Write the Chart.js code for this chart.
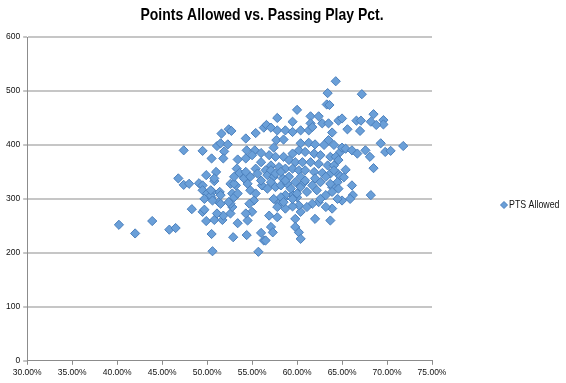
<!DOCTYPE html>
<html><head><meta charset="utf-8">
<script src="https://cdn.jsdelivr.net/npm/chart.js@4/dist/chart.umd.min.js"></script>
<style>html,body{margin:0;padding:0;background:#fff;}#wrap{width:566px;height:383px;}</style>
</head><body><div id="wrap"><canvas id="c" width="566" height="383"></canvas></div>
<script>
const chartTitle = 'Points Allowed vs. Passing Play Pct.';
const seriesName = 'PTS Allowed';
const xTicks = [30, 35, 40, 45, 50, 55, 60, 65, 70, 75];
const yTicks = [0, 100, 200, 300, 400, 500, 600];

// Passing play percentage (x) and points allowed (y)
const passPct = [
 40.2,42.0,43.9,45.8,46.5,46.8,47.4,48.0,48.3,49.1,49.9,51.0,50.8,50.5,50.6,52.9,54.4,55.7,56.0,56.3,
 53.4,54.5,55.0,54.3,49.9,50.8,51.7,51.8,51.1,52.6,52.8,49.5,49.7,49.5,49.5,50.0,50.6,51.4,49.7,50.5,
 51.3,52.8,52.6,50.4,51.5,50.6,51.5,52.4,53.0,53.4,53.2,52.6,50.4,54.1,
 47.4,49.5,50.5,51.1,51.5,51.6,52.3,52.4,52.7,51.9,51.8,54.3,55.4,56.3,56.6,54.4,55.3,55.0,56.0,53.4,
 54.3,56.0,53.3,53.6,55.4,55.6,56.5,50.8,53.0,
 64.3,63.4,63.3,63.6,60.0,57.8,59.5,61.5,62.4,62.8,63.5,61.5,57.1,57.8,58.7,59.5,60.4,61.3,57.7,58.5,
 57.4,64.6,61.7,63.9,65.6,63.5,60.4,61.3,62.0,63.0,64.1,64.8,59.5,60.2,60.9,61.9,62.6,63.7,56.9,57.6,
 58.5,59.1,59.8,60.6,61.5,62.4,63.4,64.1,57.1,58.0,58.7,59.5,60.2,60.9,61.9,62.8,63.7,64.5,56.7,57.4,
 58.4,59.1,67.2,68.5,65.0,66.6,67.1,68.2,69.6,69.6,67.0,68.8,69.3,69.8,70.4,71.8,65.0,65.4,66.1,66.7,
 67.6,68.1,68.5,64.3,64.6,65.4,64.1,64.8,65.2,64.5,66.1,63.9,
 64.6,66.2,65.9,65.0,68.2,63.9,63.7,62.0,63.2,62.4,61.7,60.4,60.2,59.5,58.7,58.0,58.5,59.5,60.0,57.8,
 56.9,59.8,59.8,60.2,60.4,57.1,57.3,56.5,61.1,
 54.5,54.8,55.4,55.2,54.7,56.1,56.7,57.1,57.6,58.2,58.9,59.3,58.7,58.2,57.4,57.8,58.5,59.5,60.0,60.4,
 60.8,61.1,61.7,62.2,62.6,63.2,63.9,64.5,53.0,54.3,54.8,56.0,57.1,57.6,58.2,58.7,59.8,60.4,60.9,62.0,
 62.6,63.2,63.7
];
const ptsAllowed = [
 252,236,259,243,246,338,326,328,281,329,344,350,333,235,203,229,233,202,237,223,
 255,260,276,273,259,261,261,269,273,273,285,276,280,325,316,310,313,313,300,302,
 294,310,291,306,307,297,291,294,303,310,325,328,316,338,
 390,389,375,398,403,421,401,429,426,388,375,412,422,432,437,390,390,381,385,373,
 375,368,356,348,356,347,353,338,328,
 518,496,475,474,465,450,443,453,453,440,440,440,432,427,427,424,427,427,409,410,
 395,445,433,423,429,409,403,404,401,400,400,387,384,390,387,384,381,378,381,378,
 378,372,368,368,368,365,362,362,362,359,356,356,353,353,350,348,347,347,344,341,
 338,341,494,457,449,445,445,443,446,438,426,437,403,387,389,398,395,393,390,384,
 390,378,357,378,372,354,353,342,340,331,325,322,
 319,307,300,297,307,282,260,263,285,294,291,276,288,286,282,291,300,307,303,266,
 269,263,248,238,226,248,238,223,285,
 328,316,310,297,291,325,319,331,322,325,328,319,307,303,300,285,294,300,310,322,
 331,313,325,316,300,307,313,300,341,350,341,334,353,347,350,334,331,341,334,338,
 331,341,328
];

const FONT = '"Liberation Sans", Arial, sans-serif';
const markerFill = '#6a9fd8';
const markerEdge = '#4b80bd';

const bgPlugin = {
  id: 'bg',
  beforeDraw(chart) {
    const c = chart.ctx;
    c.save(); c.fillStyle = '#fff'; c.fillRect(0, 0, chart.width, chart.height); c.restore();
  }
};
// text drawn with a slight horizontal condensation to mimic the narrow original face
function condensedText(c, text, x, y, font, sx, align, baseline) {
  c.save();
  c.font = font;
  c.textAlign = align;
  c.textBaseline = baseline;
  c.translate(x, y);
  c.scale(sx, 1);
  c.fillText(text, 0, 0);
  c.restore();
}
const titlePlugin = {
  id: 'ttl',
  afterDraw(chart) {
    const c = chart.ctx;
    c.save();
    c.fillStyle = '#000';
    condensedText(c, chartTitle, 262, 19.5, 'bold 17px ' + FONT, 0.822, 'center', 'alphabetic');
    c.restore();
  }
};
const legendPlugin = {
  id: 'lgd',
  afterDraw(chart) {
    const c = chart.ctx;
    const cx = 504, cy = 205, r = 3.5;
    c.save();
    c.beginPath();
    c.moveTo(cx, cy - r); c.lineTo(cx + r, cy); c.lineTo(cx, cy + r); c.lineTo(cx - r, cy); c.closePath();
    c.fillStyle = markerFill; c.fill();
    c.strokeStyle = markerEdge; c.lineWidth = 1; c.stroke();
    c.fillStyle = '#111';
    condensedText(c, seriesName, 509, cy + 0.5, '10.5px ' + FONT, 0.84, 'left', 'middle');
    c.restore();
  }
};

new Chart(document.getElementById('c').getContext('2d'), {
  type: 'scatter',
  data: {
    datasets: [{
      label: seriesName,
      data: passPct.map((x, i) => ({ x: x, y: ptsAllowed[i] })),
      pointStyle: 'rectRot',
      pointRadius: 4.6,
      pointHoverRadius: 4.6,
      backgroundColor: markerFill,
      borderColor: markerEdge,
      borderWidth: 1
    }]
  },
  options: {
    responsive: false,
    animation: false,
    events: [],
    layout: { padding: { left: 3, right: 134, top: 37, bottom: 2 } },
    plugins: { legend: { display: false }, title: { display: false }, tooltip: { enabled: false } },
    scales: {
      x: {
        type: 'linear', min: 30, max: 75,
        afterBuildTicks: s => { s.ticks = xTicks.map(v => ({ value: v })); },
        ticks: { callback: v => Number(v).toFixed(2) + '%', font: { family: FONT, size: 8.5 }, color: '#111', padding: 3, maxRotation: 0, autoSkip: false },
        grid: { drawOnChartArea: false, tickLength: 4, color: '#8c8c8c', tickColor: '#8c8c8c' },
        border: { color: '#8c8c8c', width: 1 }
      },
      y: {
        min: 0, max: 600,
        afterBuildTicks: s => { s.ticks = yTicks.map(v => ({ value: v })); },
        ticks: { font: { family: FONT, size: 8.5 }, color: '#111', padding: 3 },
        grid: {
          color: c => (c.tick && c.tick.value === 0) ? 'rgba(0,0,0,0)' : '#c6c6c6',
          lineWidth: 2, tickLength: 4, tickColor: '#8c8c8c', tickWidth: 1
        },
        border: { color: '#8c8c8c', width: 1 }
      }
    }
  },
  plugins: [bgPlugin, titlePlugin, legendPlugin]
});
</script>
</body></html>
